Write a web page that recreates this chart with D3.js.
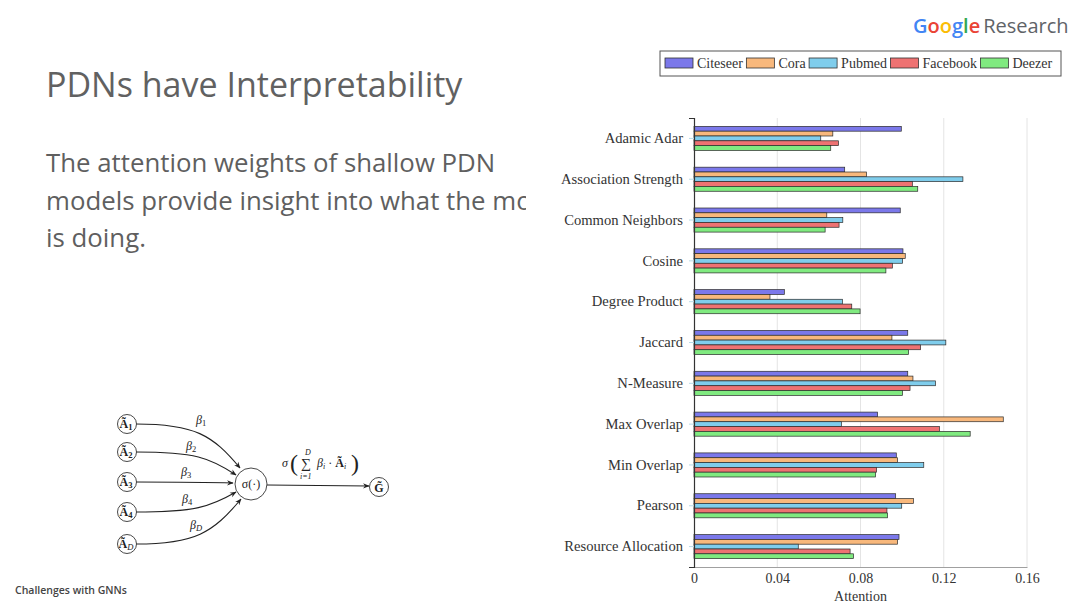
<!DOCTYPE html>
<html lang="en">
  <head>
    <meta charset="UTF-8" />
    <title>PDNs have Interpretability</title>
    <script src="https://d3js.org/d3.v7.min.js"></script>
    <style>
      body { margin: 0; background: #fff; }
    </style>
  </head>
  <body>
    <svg width="1080" height="608"></svg>

    <script>
      // ---- data ----
      var categories = ["Adamic Adar", "Association Strength", "Common Neighbors", "Cosine",
        "Degree Product", "Jaccard", "N-Measure", "Max Overlap", "Min Overlap", "Pearson",
        "Resource Allocation"];
      var seriesNames = ["Citeseer", "Cora", "Pubmed", "Facebook", "Deezer"];
      var citeseer = [0.0996, 0.0724, 0.0991, 0.1004, 0.0434, 0.1027, 0.1027, 0.0882, 0.0972, 0.0969, 0.0985];
      var cora     = [0.0667, 0.0829, 0.0638, 0.1015, 0.0365, 0.0951, 0.1052, 0.1486, 0.0978, 0.1054, 0.0978];
      var pubmed   = [0.0609, 0.1292, 0.0715, 0.1002, 0.0713, 0.1210, 0.1160, 0.0708, 0.1104, 0.0998, 0.0501];
      var facebook = [0.0694, 0.1049, 0.0697, 0.0953, 0.0758, 0.1089, 0.1038, 0.1179, 0.0877, 0.0927, 0.0750];
      var deezer   = [0.0657, 0.1075, 0.0630, 0.0922, 0.0798, 0.1031, 0.1002, 0.1327, 0.0872, 0.0930, 0.0766];
      var xTicks = [0, 0.04, 0.08, 0.12, 0.16];
      var xTickLabels = ["0", "0.04", "0.08", "0.12", "0.16"];

      var seriesValues = [citeseer, cora, pubmed, facebook, deezer];
      var colors = ["#7b78ea", "#f8b87c", "#7fcdec", "#ee7272", "#80ea80"];

      var svg = d3.select("svg");
      var serif = "'Liberation Serif', 'DejaVu Serif', serif";
      var sans = "'Open Sans', Roboto, sans-serif";

      // ---- slide text ----
      svg.append("text")
        .attr("x", 46).attr("y", 97)
        .attr("font-family", sans).attr("font-size", 34)
        .attr("fill", "#616161")
        .text("PDNs have Interpretability");

      var clip = svg.append("clipPath").attr("id", "bodyclip");
      clip.append("rect").attr("x", 0).attr("y", 0).attr("width", 526).attr("height", 608);

      var body = ["The attention weights of shallow PDN",
        "models provide insight into what the model",
        "is doing."];
      svg.append("g").attr("clip-path", "url(#bodyclip)")
        .selectAll("text").data(body).join("text")
        .attr("x", 46)
        .attr("y", function (d, i) { return 172 + i * 37.5; })
        .attr("font-family", sans).attr("font-size", 25.8)
        .attr("fill", "#5f5f5f")
        .text(function (d) { return d; });

      svg.append("text")
        .attr("x", 15).attr("y", 594)
        .attr("font-family", sans).attr("font-size", 10.5).attr("font-weight", 600)
        .attr("fill", "#444")
        .text("Challenges with GNNs");

      // Google Research logo
      var logo = svg.append("text")
        .attr("x", 913).attr("y", 33)
        .attr("font-family", sans).attr("font-size", 20);
      var gColors = ["#4285F4", "#EA4335", "#FBBC05", "#4285F4", "#34A853", "#EA4335"];
      "Google".split("").forEach(function (ch, i) {
        logo.append("tspan").attr("fill", gColors[i]).attr("font-weight", 600).text(ch);
      });
      logo.append("tspan").attr("fill", "#5f6368").attr("dx", 3).text("Research");

      // ---- network diagram ----
      var diag = svg.append("g");
      diag.append("defs").append("marker")
        .attr("id", "arrow").attr("viewBox", "0 0 10 10")
        .attr("refX", 9).attr("refY", 5)
        .attr("markerWidth", 6).attr("markerHeight", 6)
        .attr("orient", "auto")
        .append("path").attr("d", "M0,1 L10,5 L0,9 L3,5 Z").attr("fill", "#222");

      var inputs = [
        { y: 424, sub: "1", beta: "1", ex: 240, ey: 468, lx: 196, ly: 424 },
        { y: 452, sub: "2", beta: "2", ex: 236, ey: 475, lx: 186, ly: 450 },
        { y: 482, sub: "3", beta: "3", ex: 233, ey: 483, lx: 181, ly: 476 },
        { y: 512, sub: "4", beta: "4", ex: 236, ey: 492, lx: 182, ly: 503 },
        { y: 544, sub: "D", beta: "D", ex: 241, ey: 499, lx: 190, ly: 529 }
      ];
      var sx = 251, sy = 484;

      inputs.forEach(function (d) {
        var p = d3.path();
        p.moveTo(136, d.y);
        p.bezierCurveTo(195, d.y, 210 + (d.ex - 236) * 0.6, d.y + (d.ey - d.y) * 0.25, d.ex, d.ey);
        diag.append("path").attr("d", p.toString())
          .attr("fill", "none").attr("stroke", "#222").attr("stroke-width", 1.1)
          .attr("marker-end", "url(#arrow)");
        diag.append("circle").attr("cx", 127).attr("cy", d.y).attr("r", 9.5)
          .attr("fill", "#fff").attr("stroke", "#333").attr("stroke-width", 0.9);
        var t = diag.append("text").attr("x", 126).attr("y", d.y + 4)
          .attr("text-anchor", "middle").attr("font-family", serif).attr("font-size", 12)
          .attr("fill", "#222");
        t.append("tspan").attr("font-weight", "bold").text("\u00C3");
        t.append("tspan").attr("font-size", 8.5).attr("dy", 1.5)
          .attr("font-weight", d.sub === "D" ? "normal" : "bold")
          .attr("font-style", d.sub === "D" ? "italic" : "normal").text(d.sub);
        var b = diag.append("text").attr("x", d.lx).attr("y", d.ly)
          .attr("font-family", serif).attr("font-size", 12).attr("font-style", "italic")
          .attr("fill", "#222");
        b.append("tspan").text("\u03B2");
        b.append("tspan").attr("font-size", 8.5).attr("dy", 2)
          .attr("font-style", d.sub === "D" ? "italic" : "normal").text(d.beta);
      });

      diag.append("circle").attr("cx", sx).attr("cy", sy).attr("r", 16)
        .attr("fill", "#fff").attr("stroke", "#333").attr("stroke-width", 0.9);
      diag.append("text").attr("x", sx).attr("y", sy + 4)
        .attr("text-anchor", "middle").attr("font-family", serif).attr("font-size", 12)
        .attr("fill", "#222").text("\u03C3(\u00B7)");

      diag.append("line").attr("x1", 267).attr("y1", 485).attr("x2", 369).attr("y2", 486)
        .attr("stroke", "#222").attr("stroke-width", 1.1).attr("marker-end", "url(#arrow)");
      diag.append("circle").attr("cx", 379).attr("cy", 487).attr("r", 9.5)
        .attr("fill", "#fff").attr("stroke", "#333").attr("stroke-width", 0.9);
      diag.append("text").attr("x", 379).attr("y", 491.5)
        .attr("text-anchor", "middle").attr("font-family", serif).attr("font-size", 12)
        .attr("font-weight", "bold").attr("fill", "#222").text("G\u0303");

      // formula sigma( sum_{i=1}^{D} beta_i . A_i )
      var fg = diag.append("g").attr("font-family", serif).attr("fill", "#222");
      fg.append("text").attr("x", 282).attr("y", 467).attr("font-size", 12).attr("font-style", "italic").text("\u03C3");
      fg.append("text").attr("x", 290).attr("y", 471).attr("font-size", 24).attr("font-weight", 300).text("(");
      fg.append("text").attr("x", 301).attr("y", 468).attr("font-size", 14).text("\u2211");
      fg.append("text").attr("x", 305).attr("y", 455).attr("font-size", 8).attr("font-style", "italic").text("D");
      fg.append("text").attr("x", 300).attr("y", 479).attr("font-size", 8).attr("font-style", "italic").text("i=1");
      var ft = fg.append("text").attr("x", 317).attr("y", 467).attr("font-size", 12);
      ft.append("tspan").attr("font-style", "italic").text("\u03B2");
      ft.append("tspan").attr("font-size", 8).attr("dy", 2).attr("font-style", "italic").text("i");
      ft.append("tspan").attr("dy", -2).text(" \u00B7 ");
      ft.append("tspan").attr("font-weight", "bold").text("\u00C3");
      ft.append("tspan").attr("font-size", 8).attr("dy", 2).attr("font-style", "italic").text("i");
      fg.append("text").attr("x", 351).attr("y", 471).attr("font-size", 24).attr("font-weight", 300).text(")");

      // ---- bar chart ----
      var plotTop = 118, plotBottom = 567;
      var x = d3.scaleLinear().domain([0, 0.16]).range([694, 1027]);
      var y = d3.scaleBand().domain(categories).range([plotTop, plotBottom])
        .paddingInner(0.41).paddingOuter(0.205);
      var ySub = d3.scaleBand().domain(seriesNames).range([0, y.bandwidth()]);

      var chart = svg.append("g");

      // vertical gridlines
      chart.selectAll("line.grid").data(xTicks.slice(1)).join("line")
        .attr("class", "grid")
        .attr("x1", function (d) { return x(d); }).attr("x2", function (d) { return x(d); })
        .attr("y1", plotTop).attr("y2", plotBottom)
        .attr("stroke", "#e4e4e4").attr("stroke-width", 1);

      // x axis
      var xAxis = d3.axisBottom(x).tickValues(xTicks)
        .tickFormat(function (d, i) { return xTickLabels[i]; })
        .tickSize(0).tickPadding(6);
      var gx = chart.append("g").attr("transform", "translate(0," + plotBottom + ")").call(xAxis);
      gx.select(".domain").attr("stroke", "#888").attr("stroke-width", 0.8);
      gx.selectAll("text").attr("font-family", serif).attr("font-size", 14).attr("fill", "#333");

      chart.append("text")
        .attr("x", x(0.08)).attr("y", 601)
        .attr("text-anchor", "middle").attr("font-family", serif).attr("font-size", 14)
        .attr("fill", "#333").text("Attention");

      // bars
      var groups = chart.selectAll("g.cat").data(categories).join("g")
        .attr("class", "cat")
        .attr("transform", function (d) { return "translate(0," + y(d) + ")"; });

      groups.selectAll("rect")
        .data(function (c, ci) {
          return seriesNames.map(function (s, si) {
            return { series: s, value: seriesValues[si][ci], color: colors[si] };
          });
        })
        .join("rect")
        .attr("x", x(0))
        .attr("y", function (d) { return ySub(d.series); })
        .attr("width", function (d) { return x(d.value) - x(0); })
        .attr("height", ySub.bandwidth())
        .attr("fill", function (d) { return d.color; })
        .attr("stroke", "#2a2a2a").attr("stroke-width", 0.7);

      // y axis
      var yAxis = d3.axisLeft(y).tickSize(5).tickPadding(6);
      var gy = chart.append("g").attr("transform", "translate(" + x(0) + ",0)").call(yAxis);
      gy.select(".domain").attr("stroke", "#333").attr("stroke-width", 1.2);
      gy.selectAll(".tick line").attr("stroke", "#b8dbe8");
      gy.selectAll("text").attr("font-family", serif).attr("font-size", 14.6).attr("fill", "#333");

      // legend
      var legend = svg.append("g");
      legend.append("rect")
        .attr("x", 660).attr("y", 51).attr("width", 401).attr("height", 25)
        .attr("fill", "#fff").attr("stroke", "#555").attr("stroke-width", 1);
      var lx = 665;
      seriesNames.forEach(function (s, i) {
        legend.append("rect")
          .attr("x", lx).attr("y", 58).attr("width", 28).attr("height", 10)
          .attr("fill", colors[i]).attr("stroke", "#333").attr("stroke-width", 0.8);
        var t = legend.append("text")
          .attr("x", lx + 32).attr("y", 67.5)
          .attr("font-family", serif).attr("font-size", 14).attr("fill", "#333")
          .text(s);
        lx += 32 + t.node().getComputedTextLength() + 3.5;
      });
    </script>
  </body>
</html>
